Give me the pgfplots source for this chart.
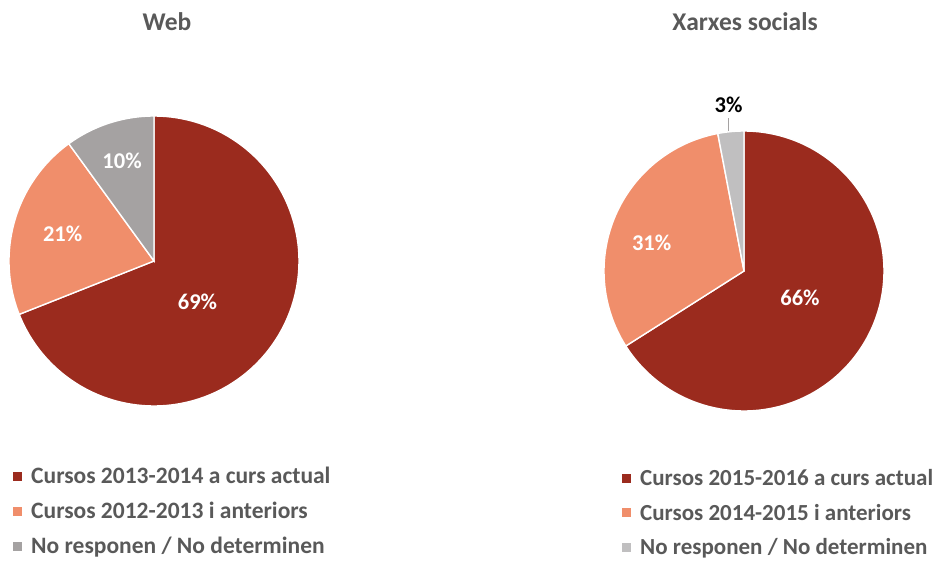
\documentclass[border=0pt]{standalone}
\usepackage{pgfplots}
\pgfplotsset{compat=1.18}
\usepackage{fontspec}
\setmainfont{Carlito}
\definecolor{cA}{HTML}{9B2B1E}
\definecolor{cB}{HTML}{F08E6B}
\definecolor{cC}{HTML}{A5A2A2}
\definecolor{cD}{HTML}{C0BFC0}
\definecolor{txt}{HTML}{595959}
\newcommand{\slice}[3]{%
  \addplot[fill=#3, draw=white, line width=1.4pt, domain={90-3.6*(#2)}:{90-3.6*(#1)},
    samples=150, variable=\t, forget plot] ({cos(\t)},{sin(\t)}) -- (axis cs:0,0) -- cycle;}
\pgfplotsset{
  pie/.style={xmin=-1,xmax=1,ymin=-1,ymax=1, hide axis, clip=false, anchor=center,
    legend style={draw=none, fill=none, font=\bfseries\fontsize{23.5}{28}\selectfont,
      text=txt, row sep=13pt, cells={anchor=west}, anchor=north west},
    legend image code/.code={\path[draw=none,fill=none] (0pt,0pt) -- (17pt,0pt);\fill[##1,draw=none] (1pt,-4.5pt) rectangle (10pt,4.5pt);}}
}
\tikzset{lab/.style={font=\bfseries\fontsize{22.5}{26}\selectfont, text=white}}
\begin{document}
\begin{tikzpicture}
\useasboundingbox (0pt,0pt) rectangle (935pt,560pt);
\node[font=\bfseries\fontsize{25.5}{30}\selectfont, text=txt] at (167pt,538pt) {Web};
\node[font=\bfseries\fontsize{25.5}{30}\selectfont, text=txt] at (745pt,538pt) {Xarxes socials};
% Web: 69, 21, 10
\begin{axis}[pie, at={(154pt,299pt)}, x=145pt, y=145pt,
  legend style={at={(0.0,-0.197)}}]
\slice{0}{69}{cA}
\slice{69}{90}{cB}
\slice{90}{100}{cC}
\addlegendimage{fill=cA}\addlegendentry{Cursos 2013-2014 a curs actual}
\addlegendimage{fill=cB}\addlegendentry{Cursos 2012-2013 i anteriors}
\addlegendimage{fill=cC}\addlegendentry{No responen / No determinen}
\node[lab] at (axis cs:0.30,-0.28) {69\%};
\node[lab] at (axis cs:-0.63,0.19) {21\%};
\node[lab] at (axis cs:-0.22,0.69) {10\%};
\end{axis}
% Xarxes socials: 66, 31, 3
\begin{axis}[pie, at={(744pt,289pt)}, x=140pt, y=140pt,
  legend style={at={(0.05,-0.193)}, font=\bfseries\fontsize{23}{28}\selectfont}]
\slice{0}{66}{cA}
\slice{66}{97}{cB}
\slice{97}{100}{cD}
\addlegendimage{fill=cA}\addlegendentry{Cursos 2015-2016 a curs actual}
\addlegendimage{fill=cB}\addlegendentry{Cursos 2014-2015 i anteriors}
\addlegendimage{fill=cD}\addlegendentry{No responen / No determinen}
\addplot[draw=cC, line width=1pt, forget plot] coordinates {(-0.11,1.0) (-0.11,1.09)};
\node[lab] at (axis cs:0.40,-0.19) {66\%};
\node[lab] at (axis cs:-0.66,0.20) {31\%};
\node[font=\bfseries\fontsize{22.5}{26}\selectfont, text=black] at (axis cs:-0.11,1.19) {3\%};
\end{axis}
\end{tikzpicture}
\end{document}
